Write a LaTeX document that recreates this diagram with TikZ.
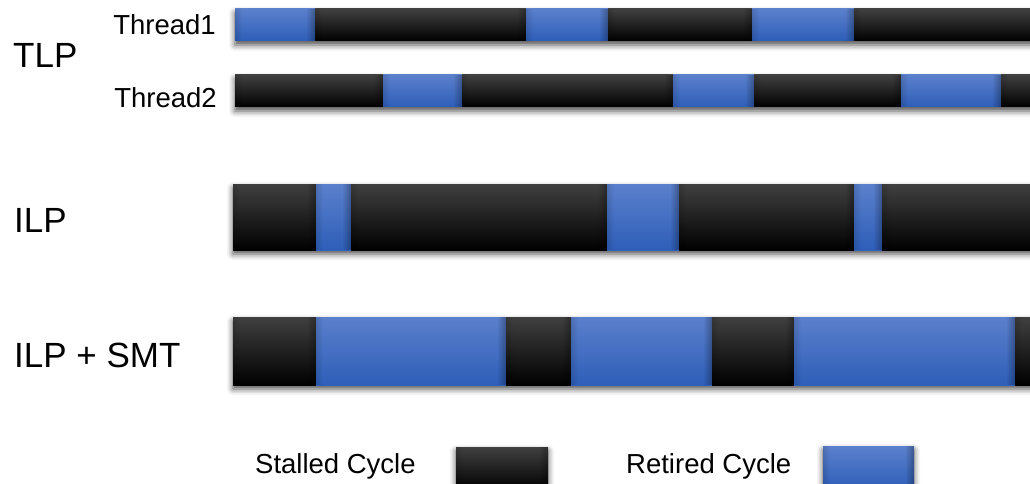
\documentclass[tikz,border=0pt]{standalone}
\usepackage{fontspec}
\setmainfont{Liberation Sans}
\usetikzlibrary{shadows.blur,fadings}
\definecolor{stallgray}{RGB}{64,64,64}
\definecolor{retiretop}{RGB}{91,128,204}
\definecolor{retirebot}{RGB}{46,94,184}
\tikzfading[name=toright, left color=transparent!100, right color=transparent!0]
\tikzfading[name=toleft, left color=transparent!0, right color=transparent!100]
\tikzset{%
    stall/.style={%
        top color=stallgray, middle color=black, bottom color=black
    },
    retire/.style={%
        top color=retiretop, bottom color=retirebot
    },
    bar/.style={%
        fill=black, blur shadow={shadow xshift=0pt, shadow yshift=-4pt,
        shadow blur radius=6pt, shadow opacity=70}
    },
    big/.style={inner sep=0pt, anchor=base west, font=\fontsize{35}{40}\selectfont},
    small/.style={inner sep=0pt, font=\fontsize{27.5}{32}\selectfont}
}
% #1,#2 top/bottom, #3,#4 left/right end, #5 segments x1/x2/kind
\newcommand{\cycles}[5]{%
    \fill[bar] (#3,#1) rectangle (#4,#2);
    \foreach \a/\b/\k in {#5} {
        \fill[\k] (\a,#1) rectangle (\b,#2);
        \fill[black, opacity=.3, path fading=toright] ({\b-9},#1) rectangle (\b,#2);
        \fill[black, opacity=.12, path fading=toleft] (\a,#1) rectangle ({\a+7},#2);
    }
}

\begin{document}
\begin{tikzpicture}[x=1pt, y=-1pt]
    \useasboundingbox (0,0) rectangle (1030,484);
    \clip (0,0) rectangle (1030,484);

    \node[big] (tlp) at (13,68) {TLP};
    \node[big] (ilp) at (14,232) {ILP};
    \node[big] (ilpsmt) at (14,367) {ILP + SMT};
    \node[small, anchor=base east] (thA) at (216,35) {Thread1};
    \node[small, anchor=base east] (thB) at (217,108) {Thread2};
    \node[small, anchor=base west] (stallkey) at (255,473) {Stalled Cycle};
    \node[small, anchor=base west] (retirekey) at (626,473) {Retired Cycle};

    % thread-level parallelism
    \cycles{9}{41}{235}{1040}{235/315/retire, 315/526/stall, 526/608/retire,
        608/752/stall, 752/854/retire, 854/1040/stall}
    \cycles{75}{107}{235}{1040}{235/383/stall, 383/462/retire, 462/673/stall,
        673/754/retire, 754/901/stall, 901/1001/retire, 1001/1040/stall}
    % instruction-level parallelism
    \cycles{184}{250}{233}{1040}{233/316/stall, 316/351/retire, 351/607/stall,
        607/679/retire, 679/854/stall, 854/882/retire, 882/1040/stall}
    \cycles{317}{385}{233}{1040}{233/316/stall, 316/506/retire, 506/571/stall,
        571/712/retire, 712/794/stall, 794/1015/retire, 1015/1040/stall}

    % key
    \cycles{447}{490}{456}{548}{456/548/stall}
    \cycles{446}{490}{823}{914}{823/914/retire}
\end{tikzpicture}
\end{document}
